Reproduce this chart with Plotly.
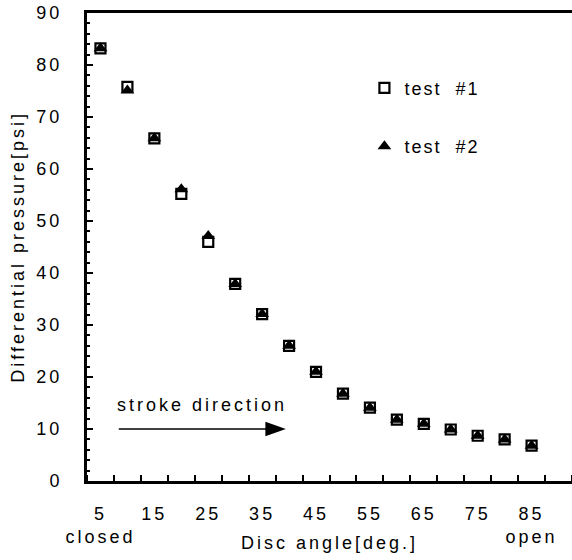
import plotly.graph_objects as go

# ---- data ----
angle = [5, 10, 15, 20, 25, 30, 35, 40, 45, 50, 55, 60, 65, 70, 75, 80, 85]
test1 = [83.2, 75.8, 65.9, 55.2, 46.0, 37.9, 32.1, 26.0, 21.0, 16.8, 14.1, 11.8, 11.0, 9.9, 8.7, 8.0, 6.8]
test2 = [83.2, 75.1, 65.9, 56.1, 47.1, 37.9, 32.1, 26.0, 21.0, 16.8, 14.1, 11.8, 11.0, 9.9, 8.7, 8.0, 6.8]
series_names = ["test  #1", "test  #2"]
xtick_vals = [5, 15, 25, 35, 45, 55, 65, 75, 85]
xtick_labels = ["5", "15", "25", "35", "45", "55", "65", "75", "85"]
x_end_labels = {5: "closed", 85: "open"}
ytick_vals = [0, 10, 20, 30, 40, 50, 60, 70, 80, 90]
x_title = "Disc angle[deg.]"
y_title = "Differential pressure[psi]"
arrow_label = "stroke direction"

FONT = "Liberation Sans, Arial, sans-serif"
LS = 3


def sp(t, s=LS):
    return f'<span style="letter-spacing:{s}px">{t}</span>'


xt_text = []
for v, lab in zip(xtick_vals, xtick_labels):
    t = sp(lab)
    if v in x_end_labels:
        t += "<br>" + sp(x_end_labels[v])
    xt_text.append(t)

fig = go.Figure()
fig.add_trace(go.Scatter(
    x=angle, y=test1, mode="markers", name=sp(series_names[0], 2), legendgroup="a",
    marker=dict(symbol="square-open", size=10, color="black", line=dict(width=2.2, color="black")),
))
fig.add_trace(go.Scatter(
    x=angle, y=test2, mode="markers", name=sp(series_names[1], 2), legendgroup="b",
    marker=dict(symbol="triangle-up", size=12, color="black", line=dict(width=0)),
))

# arrow (line + head) drawn in data coordinates
y_arrow = 10
fig.add_shape(type="line", x0=8.4, x1=36.0, y0=y_arrow, y1=y_arrow, xref="x", yref="y",
              line=dict(color="black", width=1.5))
fig.add_shape(type="path", xref="x", yref="y",
              path=f"M 35.6,{y_arrow-1.4} L 39.4,{y_arrow} L 35.6,{y_arrow+1.4} Z",
              fillcolor="black", line=dict(color="black", width=0))
fig.add_annotation(x=23.8, y=14.6, xref="x", yref="y", text=sp(arrow_label), showarrow=False,
                   font=dict(size=18, family=FONT, color="black"), xanchor="center", yanchor="middle")

# axis titles as annotations
fig.add_annotation(x=0.5, y=-0.133, xref="paper", yref="paper", text=sp(x_title), showarrow=False,
                   font=dict(size=18, family=FONT, color="black"), xanchor="center", yanchor="middle")
fig.add_annotation(x=-0.143, y=0.5, xref="paper", yref="paper", text=sp(y_title), showarrow=False,
                   textangle=-90, font=dict(size=18, family=FONT, color="black"),
                   xanchor="center", yanchor="middle")

fig.update_layout(
    width=572, height=560,
    margin=dict(l=87, r=0, t=13, b=79),
    paper_bgcolor="white", plot_bgcolor="white",
    font=dict(family=FONT, size=18, color="black"),
    showlegend=True,
    legend=dict(x=0.572, y=0.879, xanchor="left", yanchor="top", traceorder="grouped",
                tracegroupgap=32, bgcolor="rgba(0,0,0,0)", font=dict(size=18, family=FONT)),
    xaxis=dict(
        range=[2.5, 92.5], showgrid=False, zeroline=False,
        showline=True, linecolor="black", linewidth=3, mirror=True,
        tickmode="array", tickvals=xtick_vals, ticktext=xt_text,
        ticks="", ticklabelstandoff=14,
        minor=dict(tick0=2.5, dtick=5, ticks="inside", ticklen=6, tickwidth=1.5, tickcolor="black",
                   showgrid=False),
        tickfont=dict(size=18, family=FONT, color="black"),
    ),
    yaxis=dict(
        range=[0, 90], showgrid=False, zeroline=False,
        showline=True, linecolor="black", linewidth=3,
        tickmode="array", tickvals=ytick_vals, ticktext=[sp(str(v)) for v in ytick_vals],
        ticks="inside", ticklen=6, tickwidth=1.5, tickcolor="black", ticklabelstandoff=18,
        minor=dict(dtick=2, ticks="inside", ticklen=3, tickwidth=1.5, tickcolor="black", showgrid=False),
        tickfont=dict(size=18, family=FONT, color="black"),
    ),
)

fig.write_html("out.html")
